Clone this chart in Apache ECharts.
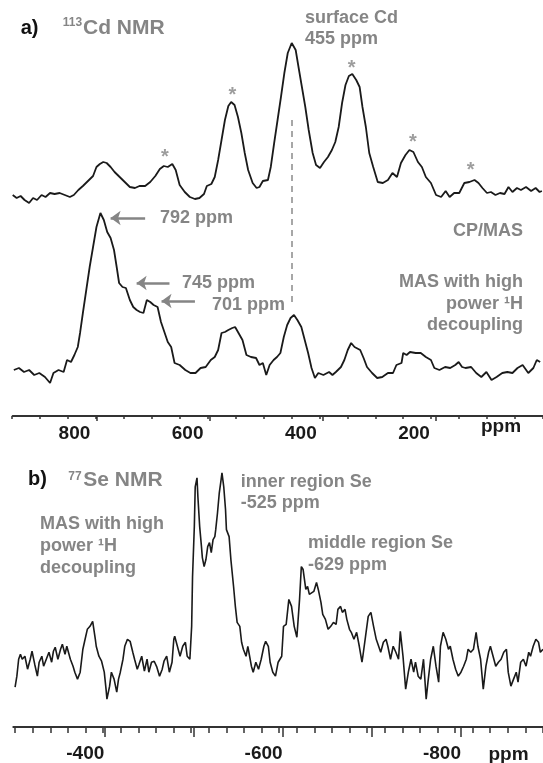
<!DOCTYPE html>
<html>
<head>
<meta charset="utf-8">
<script src="https://cdn.jsdelivr.net/npm/echarts@6/dist/echarts.min.js"></script>
<style>
  html, body { margin: 0; padding: 0; background: #fff; }
  #main { width: 543px; height: 763px; }
</style>
</head>
<body>
<div id="main"></div>
<script>
// 初始化
var chart = echarts.init(document.getElementById('main'));

// ---- a) 113Cd NMR, CP/MAS (上面那条) ----
var cpmasPpm = [948,941,934,927,919,912,905,897,890,882,874,865,856,847,840,832,824,815,806,800,
  794,788,782,775,768,759,750,741,732,724,714,705,696,688,681,674,666,660,653,644,
  635,626,618,610,605,597,591,585,579,573,567,562,556,550,544,538,532,524,517,512,
  506,497,492,486,480,474,468,462,455,448,443,437,431,425,418,412,405,398,391,384,
  378,372,366,360,354,348,341,335,330,324,318,311,303,294,285,277,269,262,254,247,
  240,232,225,218,209,200,191,183,176,168,159,150,141,132,125,118,110,103,95,87,
  79,72,65,57,50,41,32,24,17,13];
var cpmasInt = [5,2,4,0,-3,2,0,5,3,7,6,7,5,3,5,10,14,19,24,33,
  36,38,37,33,28,23,18,13,12,14,14,18,24,31,34,33,36,30,15,8,
  3,1,2,6,14,16,23,40,60,80,94,98,95,83,67,47,30,17,12,13,
  19,20,33,57,80,103,127,147,157,150,133,113,93,70,47,35,32,38,43,50,
  58,73,97,115,124,126,120,113,93,73,47,33,18,17,20,27,23,37,45,50,
  48,38,33,23,17,5,3,9,3,7,7,17,18,20,17,12,7,8,5,7,
  6,13,8,12,10,13,9,12,8,9];

// ---- a) MAS with high power 1H decoupling (下面那条) ----
var masPpm = [946,937,928,919,910,901,891,882,876,867,858,852,845,839,833,829,824,818,812,806,
  800,793,790,787,781,775,769,764,760,754,748,741,735,729,723,717,711,705,699,692,
  686,680,674,668,662,653,643,634,625,616,607,598,591,585,579,573,567,560,555,549,
  542,535,527,518,512,506,500,494,487,481,475,469,463,457,451,445,438,432,426,420,
  414,408,399,389,383,377,368,362,356,350,344,334,328,322,313,304,295,285,276,270,
  261,258,252,246,236,227,218,209,203,194,184,175,166,160,154,148,138,129,120,111,
  102,93,83,74,65,56,47,37,28,22,16];
var masInt = [46,48,44,46,41,43,39,33,43,46,44,56,54,61,69,83,103,126,149,169,
  189,203,204,196,184,178,166,148,133,129,128,116,109,106,104,103,116,114,111,109,
  94,84,74,69,53,51,46,43,43,48,49,56,59,66,83,84,86,88,89,83,
  76,61,59,58,51,53,41,51,56,59,63,79,91,98,101,96,89,76,63,48,
  38,43,41,44,41,44,49,56,66,73,69,66,58,49,43,38,39,43,43,51,
  53,63,61,64,63,63,59,56,48,46,49,48,51,54,49,48,49,43,39,44,
  36,39,43,44,43,48,51,43,48,56,54];

// ---- b) 77Se NMR ----
var sePpm = [-300,-302,-304,-306,-308,-311,-314,-317,-319,-322,-325,-327,-330,-332,-335,-338,-341,-343,-345,-348,
  -351,-353,-356,-358,-362,-365,-367,-370,-373,-376,-378,-381,-384,-387,-390,-391,-394,-397,-400,-402,
  -403,-406,-408,-411,-414,-416,-418,-421,-423,-426,-429,-432,-434,-437,-439,-442,-445,-448,-450,-453,
  -456,-459,-462,-465,-467,-470,-473,-476,-478,-479,-482,-485,-488,-491,-493,-496,-498,-499,-501,-502,
  -504,-505,-507,-509,-510,-512,-514,-516,-518,-520,-522,-524,-525,-527,-529,-531,-532,-534,-536,-537,
  -540,-542,-545,-547,-549,-552,-554,-556,-559,-561,-563,-565,-567,-570,-573,-576,-579,-581,-584,-586,
  -589,-592,-595,-599,-601,-604,-607,-610,-613,-616,-619,-621,-623,-626,-628,-630,-632,-635,-638,-640,
  -643,-645,-648,-651,-654,-657,-660,-662,-665,-667,-670,-672,-675,-677,-680,-683,-686,-689,-690,-693,
  -696,-699,-702,-705,-707,-710,-713,-716,-718,-721,-724,-727,-730,-732,-735,-738,-741,-744,-747,-749,
  -752,-755,-758,-761,-763,-766,-769,-772,-775,-777,-780,-783,-786,-788,-791,-794,-797,-800,-803,-806,
  -808,-811,-814,-817,-819,-822,-825,-828,-831,-833,-836,-839,-842,-845,-848,-851,-853,-856,-859,-862,
  -864,-867,-870,-873,-876,-878,-881,-884,-887,-889,-892];
var seInt = [40,51,68,73,68,71,58,68,76,63,51,65,71,61,68,75,65,76,80,68,
  78,83,73,81,68,61,55,48,55,78,86,98,101,106,88,81,71,66,55,38,
  28,41,55,48,35,48,55,68,81,88,86,75,68,58,63,71,56,68,55,65,
  66,60,51,58,66,71,55,65,88,91,81,71,81,85,71,68,101,151,201,241,
  250,231,201,181,170,161,168,181,185,175,188,191,198,215,235,248,255,241,218,198,
  191,168,141,121,105,101,85,78,71,81,71,61,55,65,58,68,81,86,81,65,
  55,51,65,71,101,103,128,121,101,90,128,161,158,138,141,133,135,136,145,138,
  125,113,108,98,101,105,103,118,121,115,118,108,98,95,88,95,81,65,71,91,
  111,115,101,88,90,75,85,88,81,68,81,75,68,96,71,38,55,68,55,65,
  51,48,68,28,45,68,81,61,45,81,95,88,78,81,68,58,51,55,61,68,
  78,75,78,95,81,68,38,61,75,81,71,61,65,68,75,78,55,41,48,55,
  45,65,68,61,75,71,81,88,85,75,78];

// 刻度
var cdMajor = [200, 400, 600, 800];
var seMajor = [-400, -500, -600, -700, -800];
var seLabels = [-400, -600, -800];

// 旋转边带 (*) 和表面 Cd 虚线
var sidebandPpm = [679, 560, 349, 241, 139];
var sidebandStarInt = [48, 110, 137, 63, 35];
var surfaceCdPpm = 455;

function zip(xs, ys) {
  var out = [];
  for (var i = 0; i < xs.length; i++) out.push([xs[i], ys[i]]);
  return out;
}

var FONT = '"Liberation Sans", Arial, sans-serif';
var GRAY = '#858585';
var INK = '#1a1a1a';
var AXIS = '#333';

var cdMin = 11, cdMax = 948;
var seMin = -892, seMax = -298;

function txt(x, y, s, size, color, align) {
  return {
    type: 'text', x: x, y: y, silent: true,
    style: {
      text: s, fill: color || GRAY, font: 'bold ' + (size || 18) + 'px ' + FONT,
      align: align || 'left', verticalAlign: 'middle'
    }
  };
}

// 只画小刻度的轴
function minorAxis(grid, min, max, step, len) {
  return {
    gridIndex: grid, type: 'value', min: min, max: max, interval: step, inverse: true, position: 'bottom',
    axisLine: { show: false, onZero: false },
    axisTick: { show: true, length: len, lineStyle: { color: AXIS, width: 1.5 } },
    axisLabel: { show: false },
    splitLine: { show: false }
  };
}

var option = {
  animation: false,
  backgroundColor: '#fff',
  grid: [
    { left: 12.7, right: 0, top: 0, height: 320 },
    { left: 12.7, right: 0, top: 166, height: 250 },
    { left: 13.3, right: 0, top: 428, height: 300 },
    // 小刻度用的网格 (0..950 / -900..-300)
    { left: 11.8, right: -6.5, top: 166, height: 250 },
    { left: 15.2, right: -6.8, top: 428, height: 300 }
  ],
  xAxis: [
    { gridIndex: 0, type: 'value', min: cdMin, max: cdMax, inverse: true, show: false },
    {
      gridIndex: 1, type: 'value', min: cdMin, max: cdMax, inverse: true, position: 'bottom',
      axisLine: { show: true, onZero: false, lineStyle: { color: AXIS, width: 2 } },
      axisTick: { show: true, customValues: cdMajor, length: 5, lineStyle: { color: AXIS, width: 1.5 } },
      axisLabel: {
        customValues: cdMajor, fontSize: 19, fontWeight: 'bold', fontFamily: FONT, color: INK,
        margin: 8, padding: [0, 44, 0, 0]
      },
      splitLine: { show: false }
    },
    {
      gridIndex: 2, type: 'value', min: seMin, max: seMax, inverse: true, position: 'bottom',
      axisLine: { show: true, onZero: false, lineStyle: { color: AXIS, width: 2 } },
      axisTick: { show: true, customValues: seMajor, length: 10, lineStyle: { color: AXIS, width: 1.5 } },
      axisLabel: {
        customValues: seLabels, fontSize: 19, fontWeight: 'bold', fontFamily: FONT, color: INK,
        margin: 17, padding: [0, 38, 0, 0]
      },
      splitLine: { show: false }
    },
    minorAxis(3, 0, 950, 50, 3),
    minorAxis(4, -900, -300, 20, 5)
  ],
  yAxis: [
    { gridIndex: 0, type: 'value', min: -120, max: 200, show: false },
    { gridIndex: 1, type: 'value', min: 0, max: 250, show: false },
    { gridIndex: 2, type: 'value', min: 0, max: 300, show: false },
    { gridIndex: 3, type: 'value', min: 0, max: 1, show: false },
    { gridIndex: 4, type: 'value', min: 0, max: 1, show: false }
  ],
  series: [
    {
      name: 'CP/MAS', type: 'line', xAxisIndex: 0, yAxisIndex: 0,
      data: zip(cpmasPpm, cpmasInt), showSymbol: false, clip: false,
      lineStyle: { color: INK, width: 1.8 },
      markLine: {
        silent: true, symbol: ['none', 'none'], label: { show: false },
        lineStyle: { color: '#8a8a8a', width: 1.5, type: [6, 5] },
        data: [[{ coord: [surfaceCdPpm, 80] }, { coord: [surfaceCdPpm, -102] }]]
      }
    },
    {
      name: 'sidebands', type: 'scatter', xAxisIndex: 0, yAxisIndex: 0,
      data: zip(sidebandPpm, sidebandStarInt), symbolSize: 1, clip: false,
      itemStyle: { color: 'rgba(0,0,0,0)' },
      label: {
        show: true, position: 'inside', formatter: '*', offset: [0, 5],
        fontSize: 20, fontWeight: 'bold', fontFamily: FONT, color: GRAY
      }
    },
    {
      name: 'MAS', type: 'line', xAxisIndex: 1, yAxisIndex: 1,
      data: zip(masPpm, masInt), showSymbol: false, clip: false,
      lineStyle: { color: INK, width: 1.8 },
      markLine: {
        silent: true, symbol: ['none', 'arrow'], symbolSize: [11, 10], label: { show: false },
        lineStyle: { color: GRAY, width: 2.5, type: 'solid' },
        data: [
          [{ coord: [714, 198] }, { coord: [775, 198] }],
          [{ coord: [671, 133] }, { coord: [729, 133] }],
          [{ coord: [626, 115] }, { coord: [685, 115] }]
        ]
      }
    },
    {
      name: '77Se', type: 'line', xAxisIndex: 2, yAxisIndex: 2,
      data: zip(sePpm, seInt), showSymbol: false, clip: false,
      lineStyle: { color: INK, width: 1.6 }
    }
  ],
  graphic: [
    txt(20.7, 28, 'a)', 20, '#111'),
    txt(62.7, 22.5, '113', 12),
    txt(83, 28.3, 'Cd NMR', 21),
    txt(305, 18.5, 'surface Cd', 18),
    txt(305, 39.5, '455 ppm', 18),
    txt(160, 218, '792 ppm', 18),
    txt(182, 283, '745 ppm', 18),
    txt(212, 305, '701 ppm', 18),
    txt(523, 231, 'CP/MAS', 18, GRAY, 'right'),
    txt(523, 282, 'MAS with high', 18, GRAY, 'right'),
    txt(523, 304, 'power \u00B9H', 18, GRAY, 'right'),
    txt(523, 325, 'decoupling', 18, GRAY, 'right'),
    txt(501, 427, 'ppm', 19, INK, 'center'),

    txt(28, 479, 'b)', 20, '#111'),
    txt(68.3, 477, '77', 12),
    txt(83.3, 480, 'Se NMR', 21),
    txt(40, 524, 'MAS with high', 18),
    txt(40, 546, 'power \u00B9H', 18),
    txt(40, 568, 'decoupling', 18),
    txt(240.7, 482, 'inner region Se', 18),
    txt(240.7, 503.5, '-525 ppm', 18),
    txt(308, 543, 'middle region Se', 18),
    txt(308, 565, '-629 ppm', 18),
    txt(508.5, 755, 'ppm', 19, INK, 'center')
  ]
};

chart.setOption(option);
window.addEventListener('resize', function () { chart.resize(); });
</script>
</body>
</html>
